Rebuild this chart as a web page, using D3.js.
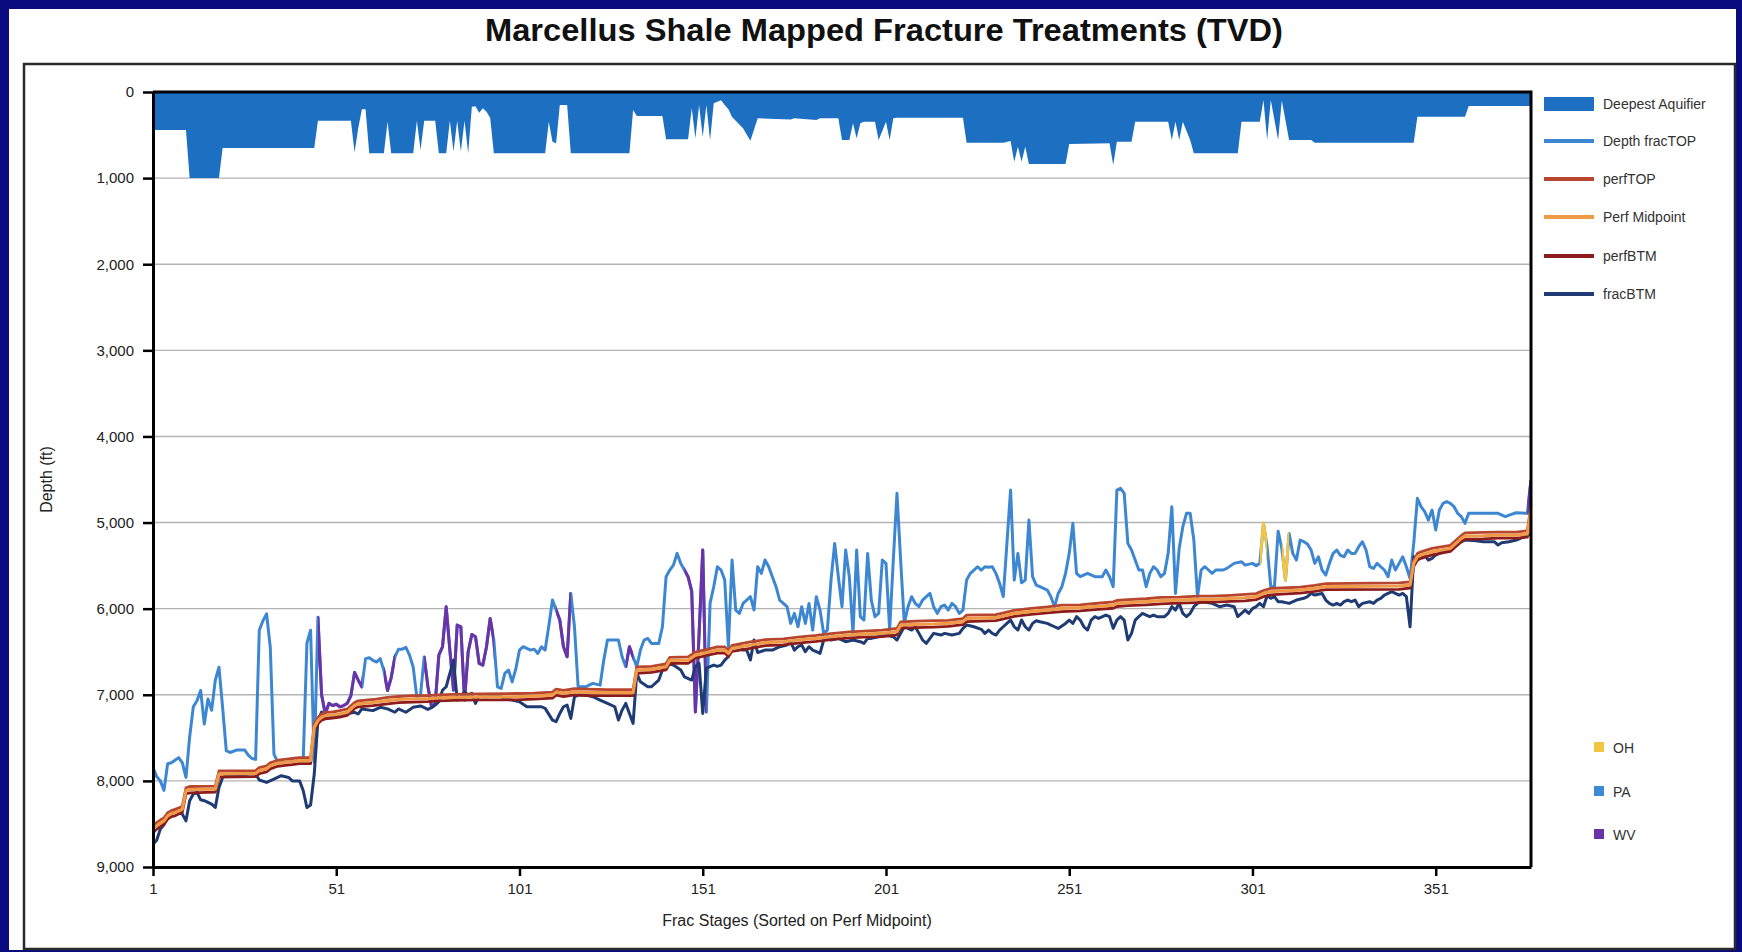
<!DOCTYPE html>
<html>
<head>
<meta charset="utf-8">
<script src="https://cdn.jsdelivr.net/npm/d3@7"></script>
<style>
  html, body { margin: 0; padding: 0; background: #0b0b80; }
  svg { display: block; }
  text { font-family: "Liberation Sans", Arial, Helvetica, sans-serif; }
</style>
</head>
<body>
<svg id="chart" width="1742" height="952"></svg>
<script>
// ---- data: depth (ft) by frac stage, stages sorted on perf midpoint ----
const aquiferPoints = [[1,440],[10,440],[11,1000],[19,1000],[20,650],[45,650],[46,333],[55,333],[56,700],[57,420],[58,200],[59,200],[60,710],[64,710],[65,345],[66,710],[72,710],[73,333],[74,673],[75,333],[78,333],[79,712],[81,712],[82,333],[83,690],[84,333],[85,690],[86,333],[87,712],[88,170],[89,165],[90,240],[91,190],[92,230],[93,300],[94,712],[108,712],[109,345],[110,577],[111,596],[112,150],[114,150],[115,712],[131,712],[132,209],[133,279],[140,279],[141,550],[147,550],[148,190],[149,538],[150,151],[151,520],[152,151],[153,560],[154,132],[155,112],[156,95],[157,150],[158,200],[159,290],[162,420],[164,565],[166,306],[175,320],[176,306],[182,325],[183,306],[188,306],[189,557],[191,557],[192,364],[193,538],[194,364],[195,345],[198,345],[199,557],[201,345],[202,557],[203,306],[204,298],[222,298],[223,588],[233,588],[235,570],[236,809],[237,635],[238,809],[239,635],[240,836],[250,836],[251,604],[262,596],[263,848],[264,577],[268,577],[269,345],[278,345],[279,557],[280,345],[281,557],[282,345],[284,557],[285,712],[297,712],[298,345],[303,345],[304,93],[305,557],[306,93],[308,557],[309,100],[311,557],[317,557],[318,588],[345,588],[346,286],[359,286],[360,163],[377,163]];

const fracTopPoints = [[1,7843],[2,7950],[3,8000],[4,8110],[5,7800],[6,7790],[7,7760],[8,7730],[9,7790],[10,7960],[11,7490],[12,7140],[13,7070],[14,6950],[15,7340],[16,7050],[17,7180],[18,6830],[19,6680],[20,7150],[21,7650],[22,7670],[24,7640],[26,7640],[27,7700],[28,7740],[29,7750],[30,6250],[31,6140],[32,6060],[33,6450],[34,7690],[35,7780],[37,7785],[40,7770],[41,7760],[42,7740],[43,6400],[44,6250],[45,7785],[46,6100],[47,7000],[48,7220],[49,7100],[50,7125],[51,7110],[52,7140],[53,7125],[54,7100],[55,7010],[56,6740],[57,6830],[58,6910],[59,6580],[60,6570],[61,6600],[62,6620],[63,6580],[64,6720],[65,6950],[66,6800],[67,6560],[68,6470],[69,6470],[70,6450],[71,6540],[72,6680],[73,7030],[74,7000],[75,6560],[76,6900],[77,7139],[78,7100],[79,6540],[80,6442],[81,5978],[82,6481],[83,6946],[84,6191],[85,6210],[86,7062],[87,6500],[88,6300],[89,6326],[90,6636],[91,6655],[92,6442],[93,6113],[94,6365],[95,6907],[96,6926],[97,6752],[98,6713],[99,6850],[100,6700],[101,6481],[102,6442],[103,6462],[104,6481],[105,6470],[106,6520],[107,6442],[108,6481],[109,6200],[110,5900],[111,6016],[112,6132],[113,6442],[114,6558],[115,5823],[116,6210],[117,6907],[119,6907],[121,6868],[123,6888],[124,6597],[125,6365],[128,6365],[129,6558],[130,6674],[131,6442],[132,6558],[133,6674],[134,6481],[135,6365],[136,6346],[137,6404],[139,6404],[140,6210],[141,5629],[142,5552],[143,5494],[144,5358],[145,5474],[146,5552],[147,5629],[148,5800],[149,7200],[150,6300],[151,5320],[152,7200],[153,5939],[154,5745],[155,5513],[156,5552],[157,5668],[158,6442],[159,5435],[160,6016],[161,6055],[162,5939],[163,5900],[164,5861],[165,6016],[166,5513],[167,5590],[168,5435],[169,5513],[170,5629],[171,5745],[172,5900],[173,5939],[174,5977],[175,6171],[176,6055],[177,6210],[178,5977],[179,6171],[180,5939],[181,6248],[182,5861],[183,6016],[184,6287],[185,6248],[186,5668],[187,5242],[188,5629],[189,5977],[190,5319],[191,5629],[192,6287],[193,5319],[194,6093],[195,6132],[196,5358],[197,5900],[198,6093],[199,6055],[200,5435],[201,5474],[202,6248],[203,5435],[204,4661],[205,5435],[206,6171],[207,5977],[208,5861],[209,5939],[210,5977],[211,5900],[212,5861],[213,5823],[214,5977],[215,6055],[216,5977],[217,5958],[218,6016],[219,5939],[220,5977],[221,6055],[222,6016],[223,5668],[224,5590],[225,5552],[226,5513],[227,5552],[228,5513],[229,5520],[230,5513],[231,5590],[232,5706],[233,5861],[234,5242],[235,4622],[236,5668],[237,5358],[238,5700],[239,5668],[240,4971],[241,5629],[242,5726],[243,5745],[245,5784],[246,5861],[247,5977],[248,5823],[249,5745],[250,5590],[251,5358],[252,5009],[253,5590],[254,5629],[256,5590],[258,5629],[260,5629],[261,5552],[262,5629],[263,5745],[264,4622],[265,4603],[266,4661],[267,5242],[268,5319],[269,5435],[270,5551],[271,5551],[272,5745],[273,5590],[274,5513],[275,5551],[276,5629],[277,5590],[278,5358],[279,4816],[280,5823],[281,5300],[282,5048],[283,4893],[284,4893],[285,5203],[286,5861],[287,5551],[288,5513],[289,5551],[290,5590],[291,5551],[293,5551],[294,5532],[296,5474],[298,5455],[299,5494],[301,5474],[302,5500],[303,5474],[304,5009],[305,5280],[306,5745],[307,5745],[308,5100],[309,5300],[310,5668],[311,5126],[312,5358],[313,5435],[314,5203],[315,5222],[316,5250],[317,5319],[318,5474],[319,5397],[320,5552],[321,5610],[322,5474],[323,5358],[324,5319],[325,5380],[326,5397],[327,5319],[328,5358],[329,5358],[330,5280],[331,5223],[332,5319],[333,5513],[334,5532],[335,5474],[336,5513],[337,5551],[338,5629],[339,5435],[340,5551],[341,5474],[342,5397],[343,5513],[344,5650],[345,5242],[346,4719],[347,4816],[348,4874],[349,4971],[350,4855],[351,5087],[352,4855],[353,4777],[354,4758],[355,4777],[356,4816],[357,4893],[358,4932],[359,5009],[360,4893],[364,4893],[368,4893],[370,4932],[371,4913],[373,4886],[376,4893],[377,4506]];

const fracBtmPoints = [[1,8735],[2,8690],[3,8560],[4,8510],[5,8430],[6,8386],[7,8350],[8,8367],[9,8386],[10,8464],[11,8231],[12,8153],[13,8134],[14,8220],[15,8230],[16,8250],[17,8270],[18,8309],[19,8076],[20,7960],[21,7940],[23,7945],[25,7935],[27,7920],[29,7920],[30,7990],[32,8018],[34,7980],[36,7940],[38,7960],[39,8000],[41,8000],[42,8115],[43,8309],[44,8280],[45,7920],[46,7300],[47,7200],[48,7261],[50,7250],[52,7242],[54,7220],[56,7203],[57,7222],[58,7164],[61,7184],[63,7145],[65,7164],[67,7203],[68,7164],[70,7203],[72,7145],[74,7130],[76,7170],[77,7150],[78,7120],[79,7080],[80,6946],[81,6907],[82,6752],[83,6597],[84,7062],[85,7023],[86,6965],[87,7004],[88,6984],[89,7100],[90,7004],[91,7023],[92,7023],[94,7004],[96,7023],[97,7042],[99,7062],[101,7081],[103,7139],[105,7139],[107,7139],[108,7158],[110,7294],[111,7313],[112,7217],[113,7139],[114,7120],[115,7275],[116,7023],[117,7004],[119,7004],[121,7023],[123,7062],[125,7100],[127,7139],[128,7294],[129,7178],[130,7100],[131,7217],[132,7333],[133,6752],[134,6849],[136,6907],[137,6907],[139,6829],[140,6713],[141,6636],[143,6655],[145,6713],[146,6791],[148,6829],[149,6674],[150,6636],[151,7217],[152,6690],[153,6674],[154,6655],[155,6670],[156,6655],[157,6597],[158,6558],[159,6442],[161,6422],[162,6481],[163,6481],[164,6597],[165,6364],[166,6510],[168,6481],[170,6481],[172,6442],[174,6422],[175,6384],[176,6481],[177,6442],[178,6422],[179,6500],[180,6442],[181,6481],[182,6500],[183,6519],[184,6364],[185,6326],[186,6364],[188,6345],[190,6384],[192,6364],[194,6384],[195,6403],[196,6345],[197,6345],[199,6326],[201,6306],[203,6326],[204,6364],[205,6287],[206,6210],[207,6229],[208,6248],[209,6210],[210,6287],[211,6364],[212,6403],[213,6345],[214,6287],[216,6306],[217,6287],[219,6306],[221,6287],[222,6229],[223,6190],[225,6210],[227,6240],[228,6287],[229,6248],[230,6287],[231,6306],[232,6248],[233,6210],[234,6171],[235,6132],[236,6210],[237,6248],[238,6132],[239,6210],[240,6248],[241,6171],[242,6140],[243,6152],[245,6171],[246,6190],[247,6210],[248,6229],[250,6171],[251,6132],[252,6171],[253,6093],[254,6132],[255,6210],[256,6248],[257,6132],[258,6093],[259,6113],[261,6074],[262,6093],[263,6229],[264,6132],[265,6093],[266,6132],[267,6364],[268,6287],[269,6132],[270,6093],[271,6055],[272,6074],[273,6093],[274,6074],[275,6093],[277,6093],[278,6055],[279,5977],[280,6016],[281,5938],[282,6055],[283,6093],[284,6055],[285,5977],[286,5938],[287,5919],[290,5938],[292,5977],[294,5958],[296,5977],[297,6093],[298,6055],[299,6016],[300,6055],[301,6000],[302,5977],[303,5938],[304,5977],[305,5850],[306,5880],[307,5861],[308,5919],[309,5919],[311,5939],[313,5900],[315,5880],[316,5861],[317,5823],[318,5842],[320,5823],[321,5900],[322,5939],[323,5958],[324,5939],[325,5958],[326,5919],[327,5900],[328,5919],[329,5900],[330,5977],[331,5939],[333,5919],[334,5939],[335,5900],[336,5880],[337,5842],[338,5823],[339,5803],[341,5842],[342,5823],[343,5861],[344,6210],[345,5397],[346,5435],[347,5397],[348,5377],[349,5435],[350,5416],[351,5377],[352,5358],[353,5338],[355,5319],[356,5280],[358,5222],[359,5203],[362,5211],[364,5222],[367,5222],[368,5261],[369,5234],[371,5222],[373,5203],[375,5165],[376,5150],[377,5130]];

const perfTopPoints = [[1,8520],[2,8485],[3,8455],[4,8430],[5,8370],[6,8345],[7,8330],[8,8315],[9,8295],[10,8080],[11,8065],[18,8060],[19,7885],[29,7880],[30,7845],[32,7825],[33,7790],[35,7760],[37,7750],[39,7740],[41,7730],[44,7730],[45,7340],[46,7265],[47,7225],[48,7205],[50,7200],[52,7185],[54,7165],[56,7090],[57,7070],[61,7055],[65,7030],[68,7020],[72,7010],[76,7010],[79,7000],[83,6995],[90,6990],[100,6985],[105,6980],[110,6970],[111,6935],[113,6950],[116,6930],[119,6935],[125,6940],[132,6940],[133,6675],[137,6670],[141,6640],[142,6565],[147,6560],[149,6505],[151,6485],[153,6465],[155,6445],[157,6445],[158,6485],[159,6425],[164,6385],[168,6360],[173,6350],[177,6330],[182,6310],[186,6290],[191,6270],[195,6260],[200,6250],[204,6230],[205,6155],[209,6145],[214,6140],[218,6135],[222,6115],[223,6075],[231,6070],[234,6040],[236,6020],[240,6000],[245,5980],[249,5960],[254,5955],[258,5940],[263,5920],[264,5905],[267,5895],[272,5885],[276,5870],[281,5865],[286,5855],[290,5855],[295,5845],[299,5835],[302,5825],[304,5790],[306,5765],[309,5760],[314,5750],[318,5730],[321,5710],[341,5700],[344,5690],[345,5440],[346,5360],[347,5340],[350,5300],[355,5265],[358,5150],[359,5120],[364,5115],[368,5110],[373,5110],[376,5095],[377,4800]];

const perfMidPoints = [[1,8560],[2,8522],[3,8490],[4,8464],[5,8406],[6,8380],[7,8367],[8,8350],[9,8330],[10,8115],[11,8100],[18,8095],[19,7920],[29,7913],[30,7880],[32,7860],[33,7824],[35,7796],[37,7785],[39,7776],[41,7765],[44,7765],[45,7377],[46,7300],[47,7261],[48,7242],[50,7235],[52,7222],[54,7203],[56,7125],[57,7106],[61,7090],[65,7067],[68,7055],[72,7048],[76,7046],[79,7036],[83,7030],[90,7025],[100,7023],[105,7015],[110,7004],[111,6970],[113,6984],[116,6965],[119,6972],[125,6975],[132,6976],[133,6713],[137,6705],[141,6674],[142,6600],[147,6597],[149,6539],[151,6520],[153,6500],[155,6481],[157,6480],[158,6520],[159,6461],[164,6422],[168,6395],[173,6384],[177,6364],[182,6345],[186,6326],[191,6306],[195,6295],[200,6287],[204,6267],[205,6190],[209,6182],[214,6178],[218,6171],[222,6150],[223,6113],[231,6105],[234,6074],[236,6055],[240,6035],[245,6016],[249,5997],[254,5989],[258,5977],[263,5958],[264,5939],[267,5931],[272,5919],[276,5907],[281,5900],[286,5892],[290,5892],[295,5880],[299,5873],[302,5861],[304,5823],[306,5803],[309,5795],[314,5784],[318,5765],[321,5745],[341,5737],[344,5726],[345,5474],[346,5397],[347,5377],[350,5338],[355,5300],[358,5184],[359,5157],[364,5153],[368,5145],[373,5145],[376,5133],[377,4850]];

const perfBtmPoints = [[1,8600],[2,8560],[3,8530],[4,8500],[5,8445],[6,8415],[7,8405],[8,8385],[9,8365],[10,8150],[11,8140],[18,8130],[19,7955],[29,7950],[30,7915],[32,7895],[33,7860],[35,7830],[37,7820],[39,7810],[41,7800],[44,7800],[45,7415],[46,7335],[47,7295],[48,7280],[50,7270],[52,7260],[54,7240],[56,7160],[57,7140],[61,7125],[65,7105],[68,7090],[72,7085],[76,7080],[79,7070],[83,7065],[90,7060],[100,7060],[105,7050],[110,7040],[111,7005],[113,7020],[116,7000],[119,7010],[125,7010],[132,7010],[133,6750],[137,6740],[141,6710],[142,6635],[147,6635],[149,6575],[151,6555],[153,6535],[155,6515],[157,6515],[158,6555],[159,6495],[164,6460],[168,6430],[173,6420],[177,6400],[182,6380],[186,6360],[191,6340],[195,6330],[200,6325],[204,6305],[205,6225],[209,6220],[214,6215],[218,6205],[222,6185],[223,6150],[231,6140],[234,6110],[236,6090],[240,6070],[245,6050],[249,6035],[254,6025],[258,6010],[263,5995],[264,5975],[267,5965],[272,5955],[276,5945],[281,5935],[286,5930],[290,5925],[295,5915],[299,5910],[302,5895],[304,5860],[306,5840],[309,5830],[314,5820],[318,5800],[321,5780],[341,5775],[344,5760],[345,5510],[346,5435],[347,5415],[350,5375],[355,5335],[358,5220],[359,5195],[364,5190],[368,5180],[373,5180],[376,5170],[377,4900]];

// stage ranges of the fracTOP trace that belong to wells outside PA
const stateRangeState = ["WV", "WV", "WV", "WV", "WV", "WV", "OH", "OH", "WV"];
const stateRangeFrom  = [46, 64, 75, 111, 130, 146, 303, 309, 376];
const stateRangeTo    = [58, 67, 94, 115, 132, 152, 305, 311, 377];

const depthTicks = [0, 1000, 2000, 3000, 4000, 5000, 6000, 7000, 8000, 9000];
const stageTicks = [1, 51, 101, 151, 201, 251, 301, 351];

const seriesNames  = ["Deepest Aquifier", "Depth fracTOP", "perfTOP", "Perf Midpoint", "perfBTM", "fracBTM"];
const seriesColors = ["#1c6fc1", "#3d87d2", "#b8452e", "#f09a48", "#8c1c1c", "#1f3b73"];
const stateNames   = ["OH", "PA", "WV"];
const stateColors  = ["#f4c542", "#3a8ad6", "#6a33a8"];

// ---- layout ----
const svg = d3.select("#chart");
const plot = { left: 153, right: 1531, top: 92, bottom: 867 };

svg.append("rect").attr("x", 9).attr("y", 9).attr("width", 1727).attr("height", 941).attr("fill", "#ffffff");
svg.append("rect").attr("x", 24).attr("y", 64).attr("width", 1711).attr("height", 885)
  .attr("fill", "none").attr("stroke", "#2a2a2a").attr("stroke-width", 2.5);

svg.append("text")
  .attr("x", 884).attr("y", 41).attr("text-anchor", "middle")
  .attr("font-size", 31).attr("font-weight", "bold").attr("fill", "#111")
  .attr("textLength", 798).attr("lengthAdjust", "spacingAndGlyphs")
  .text("Marcellus Shale Mapped Fracture Treatments (TVD)");

const x = d3.scaleLinear().domain([1, 377]).range([plot.left, plot.right]);
const y = d3.scaleLinear().domain([0, 9000]).range([plot.top, plot.bottom]);

const defs = svg.append("defs");
defs.append("clipPath").attr("id", "plotClip").append("rect")
  .attr("x", plot.left).attr("y", plot.top)
  .attr("width", plot.right - plot.left).attr("height", plot.bottom - plot.top);

// gridlines
svg.append("g").selectAll("line")
  .data(depthTicks.filter(d => d > 0 && d < 9000))
  .join("line")
  .attr("x1", plot.left).attr("x2", plot.right)
  .attr("y1", d => y(d)).attr("y2", d => y(d))
  .attr("stroke", "#b4b4b4").attr("stroke-width", 1.4);

const g = svg.append("g").attr("clip-path", "url(#plotClip)");

// deepest aquifer, filled from surface down to the aquifer base
const area = d3.area().x(d => x(d[0])).y0(y(0)).y1(d => y(d[1]));
g.append("path").datum(aquiferPoints).attr("d", area).attr("fill", seriesColors[0]);

const line = d3.line().x(d => x(d[0])).y(d => y(d[1]));

// fracTOP trace, PA by default, overlaid in the colour of other states
g.append("path").datum(fracTopPoints).attr("d", line)
  .attr("fill", "none").attr("stroke", seriesColors[1]).attr("stroke-width", 3)
  .attr("stroke-linejoin", "round");

stateRangeState.forEach((st, i) => {
  const id = "stateClip" + i;
  defs.append("clipPath").attr("id", id).append("rect")
    .attr("x", x(stateRangeFrom[i])).attr("y", plot.top)
    .attr("width", x(stateRangeTo[i]) - x(stateRangeFrom[i])).attr("height", plot.bottom - plot.top);
  g.append("g").attr("clip-path", "url(#" + id + ")")
    .append("path").datum(fracTopPoints).attr("d", line)
    .attr("fill", "none").attr("stroke", stateColors[stateNames.indexOf(st)])
    .attr("stroke-width", 3).attr("stroke-linejoin", "round");
});

// fracBTM
g.append("path").datum(fracBtmPoints).attr("d", line)
  .attr("fill", "none").attr("stroke", seriesColors[5]).attr("stroke-width", 3)
  .attr("stroke-linejoin", "round");

// perforation interval
[[perfBtmPoints, 4, 2.8], [perfTopPoints, 2, 2.8], [perfMidPoints, 3, 3.2]].forEach(([pts, ci, w]) => {
  g.append("path").datum(pts).attr("d", line)
    .attr("fill", "none").attr("stroke", seriesColors[ci]).attr("stroke-width", w)
    .attr("stroke-linejoin", "round");
});

// axes
const yAxis = d3.axisLeft(y).tickValues(depthTicks).tickFormat(d3.format(","))
  .tickSize(10).tickSizeOuter(0).tickPadding(9);
const xAxis = d3.axisBottom(x).tickValues(stageTicks).tickFormat(d3.format("d"))
  .tickSize(9).tickSizeOuter(0).tickPadding(7);

const gy = svg.append("g").attr("transform", `translate(${plot.left},0)`).call(yAxis);
const gx = svg.append("g").attr("transform", `translate(0,${plot.bottom})`).call(xAxis);
[gy, gx].forEach(ax => {
  ax.select(".domain").attr("stroke", "#000").attr("stroke-width", 3);
  ax.selectAll(".tick line").attr("stroke", "#000").attr("stroke-width", 2.5);
  ax.selectAll(".tick text").attr("font-size", 15).attr("fill", "#222")
    .attr("font-family", "\"Liberation Sans\", Arial, sans-serif");
});

// top and right frame of the plot
svg.append("path")
  .attr("d", `M${plot.left},${plot.top}H${plot.right}V${plot.bottom}`)
  .attr("fill", "none").attr("stroke", "#000").attr("stroke-width", 3);

svg.append("text")
  .attr("transform", `translate(52,${(plot.top + plot.bottom) / 2}) rotate(-90)`)
  .attr("text-anchor", "middle").attr("font-size", 16).attr("fill", "#222")
  .text("Depth (ft)");

svg.append("text")
  .attr("x", (plot.left + plot.right) / 2 - 45).attr("y", 926).attr("text-anchor", "middle")
  .attr("font-size", 16).attr("fill", "#222")
  .text("Frac Stages (Sorted on Perf Midpoint)");

// series legend
const legendRows = [104, 141, 179, 217, 256, 294];
const lg = svg.append("g");
seriesNames.forEach((name, i) => {
  if (i === 0) {
    lg.append("rect").attr("x", 1544).attr("y", legendRows[i] - 7).attr("width", 50).attr("height", 14)
      .attr("fill", seriesColors[i]);
  } else {
    lg.append("line").attr("x1", 1544).attr("x2", 1594)
      .attr("y1", legendRows[i]).attr("y2", legendRows[i])
      .attr("stroke", seriesColors[i]).attr("stroke-width", 4);
  }
  lg.append("text").attr("x", 1603).attr("y", legendRows[i] + 5)
    .attr("font-size", 14).attr("fill", "#333").text(name);
});

// state legend
const stateRows = [748, 792, 835];
stateNames.forEach((name, i) => {
  lg.append("rect").attr("x", 1594).attr("y", stateRows[i] - 6).attr("width", 10).attr("height", 10)
    .attr("fill", stateColors[i]);
  lg.append("text").attr("x", 1613).attr("y", stateRows[i] + 5)
    .attr("font-size", 14).attr("fill", "#333").text(name);
});
</script>
</body>
</html>
